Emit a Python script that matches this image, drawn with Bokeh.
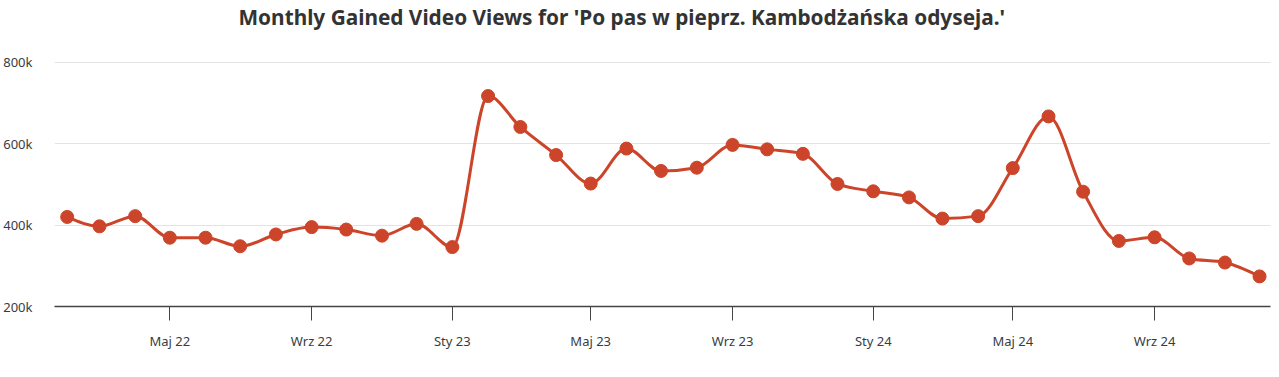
import numpy as np
import pandas as pd
from bokeh.plotting import figure
from bokeh.models import FixedTicker, NumeralTickFormatter, Range1d
from bokeh.embed import file_html
from bokeh.resources import INLINE

months = ["2022-02", "2022-03", "2022-04", "2022-05", "2022-06", "2022-07", "2022-08",
          "2022-09", "2022-10", "2022-11", "2022-12", "2023-01", "2023-02", "2023-03",
          "2023-04", "2023-05", "2023-06", "2023-07", "2023-08", "2023-09", "2023-10",
          "2023-11", "2023-12", "2024-01", "2024-02", "2024-03", "2024-04", "2024-05",
          "2024-06", "2024-07", "2024-08", "2024-09", "2024-10", "2024-11", "2024-12"]
views = [420000, 397000, 422000, 369000, 369000, 348000, 377000, 395000, 389000,
         374000, 403000, 346000, 717000, 641000, 572000, 502000, 588000, 533000,
         541000, 597000, 586000, 575000, 501000, 483000, 468000, 416000, 422000,
         540000, 667000, 482000, 361000, 370000, 318000, 308000, 274000]
tick_months = ["2022-05", "2022-09", "2023-01", "2023-05", "2023-09", "2024-01", "2024-05", "2024-09"]
tick_labels = ["Maj 22", "Wrz 22", "Sty 23", "Maj 23", "Wrz 23", "Sty 24", "Maj 24", "Wrz 24"]
y_ticks = [200000, 400000, 600000, 800000]

COLOR = "#cc4429"
FONT = "Noto Sans"
EPOCH = pd.Timestamp("1970-01-01")
DAY = 86400000.0

xs = np.array([float((pd.Timestamp(m) - EPOCH) // pd.Timedelta("1ms")) for m in months])
ys = np.asarray(views, dtype=float)

# Monotone cubic (d3.curveMonotoneX style) as bezier segments
xd = xs / DAY
h = np.diff(xd)
s = np.diff(ys) / h
n = len(xd)
t = np.zeros(n)
for i in range(1, n - 1):
    h0, h1, s0, s1 = h[i - 1], h[i], s[i - 1], s[i]
    pp = (s0 * h1 + s1 * h0) / (h0 + h1)
    t[i] = (np.sign(s0) + np.sign(s1)) * min(abs(s0), abs(s1), 0.5 * abs(pp))
t[0] = (3 * s[0] - t[1]) / 2
t[-1] = (3 * s[-1] - t[-2]) / 2
dx = h / 3.0
x0, y0 = xs[:-1], ys[:-1]
x1, y1 = xs[1:], ys[1:]
cx0 = x0 + dx * DAY
cy0 = y0 + dx * t[:-1]
cx1 = x1 - dx * DAY
cy1 = y1 - dx * t[1:]

p = figure(width=1279, height=377, x_axis_type="datetime", output_backend="svg",
           toolbar_location=None,
           x_range=Range1d(xs[0] - 11 * DAY, xs[-1] + 9.5 * DAY),
           y_range=Range1d(200000, 878000),
           min_border_left=54, min_border_right=9, min_border_top=30, min_border_bottom=71)

p.bezier(x0=x0, y0=y0, x1=x1, y1=y1, cx0=cx0, cy0=cy0, cx1=cx1, cy1=cy1,
         line_color=COLOR, line_width=3)
p.scatter(xs, ys, size=13, fill_color=COLOR, line_color=COLOR)

p.title.text = "Monthly Gained Video Views for 'Po pas w pieprz. Kambodżańska odyseja.'"
p.title.align = "left"
p.title.offset = 184
p.title.text_font = FONT
p.title.text_font_size = "20.8px"
p.title.text_font_style = "bold"
p.title.text_color = "#333333"
p.title.standoff = 0

tick_ms = [float((pd.Timestamp(m) - EPOCH) // pd.Timedelta("1ms")) for m in tick_months]
xa = p.xaxis[0]
xa.ticker = FixedTicker(ticks=tick_ms)
xa.major_label_overrides = {tm: lb for tm, lb in zip(tick_ms, tick_labels)}
xa.major_tick_out = 14
xa.major_tick_in = 0
xa.minor_tick_out = 0
xa.minor_tick_in = 0
xa.axis_line_color = "#444444"
xa.major_tick_line_color = "#444444"
xa.axis_line_width = 1.5
xa.major_label_standoff = 11
xa.major_label_text_font = FONT
xa.major_label_text_font_size = "13px"
xa.major_label_text_color = "#373d3f"

ya = p.yaxis[0]
ya.ticker = FixedTicker(ticks=y_ticks)
ya.formatter = NumeralTickFormatter(format="0a")
ya.axis_line_color = None
ya.major_tick_out = 0
ya.major_tick_in = 0
ya.minor_tick_out = 0
ya.minor_tick_in = 0
ya.major_label_standoff = 22
ya.major_label_text_font = FONT
ya.major_label_text_font_size = "13px"
ya.major_label_text_color = "#373d3f"

p.xgrid.grid_line_color = None
p.ygrid.grid_line_color = "#e3e3e3"
p.ygrid.grid_line_width = 1
p.outline_line_color = None

open("out.html", "w").write(file_html(p, INLINE))
